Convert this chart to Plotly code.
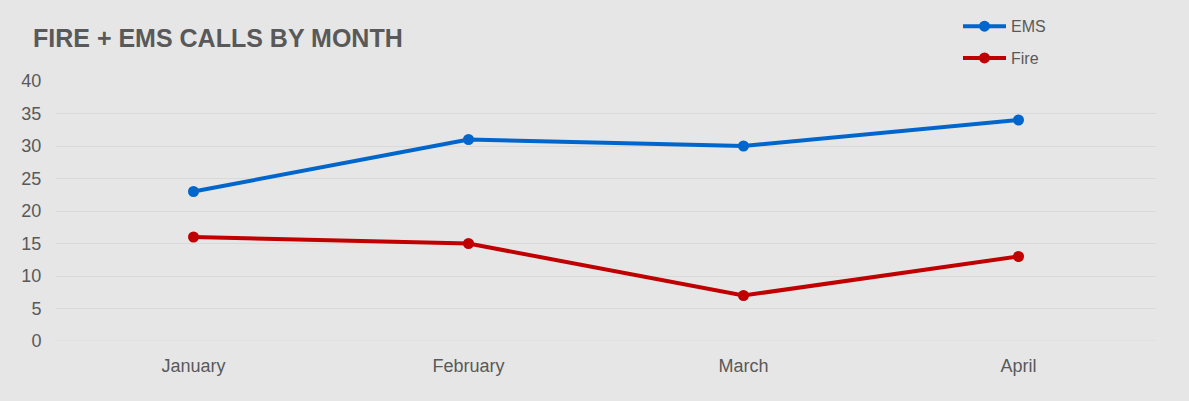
import plotly.graph_objects as go

months = ["January", "February", "March", "April"]
ems = [23, 31, 30, 34]
fire = [16, 15, 7, 13]

FONT = "Liberation Sans, Arial, sans-serif"
TXT = "#595959"

fig = go.Figure()
fig.add_trace(go.Scatter(x=months, y=ems, name="EMS", mode="lines+markers",
                         line=dict(color="#0066cc", width=4), legendgroup="a",
                         marker=dict(size=11, color="#0066cc")))
fig.add_trace(go.Scatter(x=months, y=fire, name="Fire", mode="lines+markers",
                         line=dict(color="#c00000", width=4), legendgroup="b",
                         marker=dict(size=11, color="#c00000")))

fig.update_layout(
    width=1189, height=401,
    paper_bgcolor="#e6e6e6", plot_bgcolor="#e6e6e6",
    margin=dict(l=56, r=33, t=81, b=60, autoexpand=False),
    font=dict(family=FONT, color=TXT, size=16),
    title=dict(text="<b>FIRE + EMS CALLS BY MONTH</b>", x=33/1189, xanchor="left",
               y=1-38/401, yanchor="middle", font=dict(size=25, color=TXT, family=FONT)),
    legend=dict(x=0.82, y=1.276, xanchor="left", yanchor="top",
                traceorder="grouped", tracegroupgap=8, itemwidth=43,
                bgcolor="rgba(0,0,0,0)", font=dict(size=16, color=TXT)),
    xaxis=dict(showgrid=False, showline=False, zeroline=False,
               ticks="outside", ticklen=8, tickcolor="rgba(0,0,0,0)",
               tickfont=dict(size=18, color=TXT), range=[-0.5, 3.5]),
    yaxis=dict(range=[0, 40], dtick=5, gridcolor="#d9d9d9", gridwidth=1.2,
               zeroline=False, showline=False,
               ticks="outside", ticklen=10, tickcolor="rgba(0,0,0,0)",
               tickfont=dict(size=18, color=TXT)),
)
fig.add_shape(type="line", xref="paper", yref="y", x0=0, x1=1, y0=0, y1=0,
              line=dict(color="#d9d9d9", width=1.2), layer="below")

fig.write_html("out.html", config={"displayModeBar": False},
               post_script=["document.body.style.margin='0';"])
